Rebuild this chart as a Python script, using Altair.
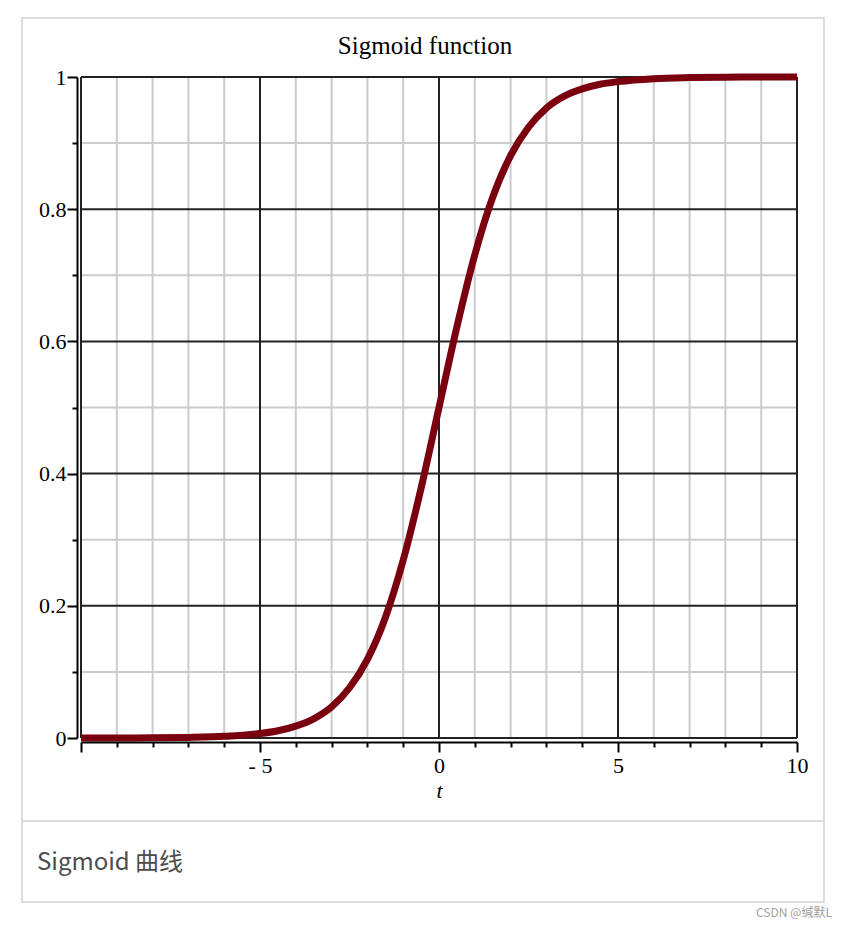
import altair as alt
import pandas as pd

# ---- data ----
t_values = [-10, -9, -8, -7, -6, -5, -4.5, -4, -3.5, -3, -2.5, -2, -1.5, -1, -0.5,
            0, 0.5, 1, 1.5, 2, 2.5, 3, 3.5, 4, 4.5, 5, 6, 7, 8, 9, 10]
sigmoid_values = [0.0000, 0.0001, 0.0003, 0.0009, 0.0025, 0.0067, 0.011, 0.018, 0.029,
                  0.047, 0.076, 0.119, 0.182, 0.269, 0.378, 0.500, 0.622, 0.731, 0.818,
                  0.881, 0.924, 0.953, 0.971, 0.982, 0.989, 0.993, 0.9975, 0.9991,
                  0.9997, 0.9999, 1.0000]

x_major = [-10, -5, 0, 5, 10]
x_minor = [-9, -8, -7, -6, -4, -3, -2, -1, 1, 2, 3, 4, 6, 7, 8, 9]
y_major = [0, 0.2, 0.4, 0.6, 0.8, 1]
y_minor = [0.1, 0.3, 0.5, 0.7, 0.9]

title_text = "Sigmoid function"
x_title = "t"
caption_text = "Sigmoid 曲线"
watermark_text = "CSDN @缄默L"

curve_df = pd.DataFrame({"t": t_values, "y": sigmoid_values})

SERIF = "Liberation Serif"
x_scale = alt.Scale(domain=[-10, 10], nice=False, zero=False)
y_scale = alt.Scale(domain=[0, 1], nice=False, zero=False)
one = alt.Data(values=[{}])

frame = alt.Chart(one).mark_rect(filled=False, stroke="#dddddd", strokeWidth=2).encode(
    x=alt.value(-59), x2=alt.value(743), y=alt.value(-59), y2=alt.value(825)
)
separator = alt.Chart(one).mark_rule(color="#dddddd", strokeWidth=2).encode(
    x=alt.value(-59), x2=alt.value(743), y=alt.value(744)
)

minor_x = alt.Chart(pd.DataFrame({"v": x_minor})).mark_rule(color="#cccccc", strokeWidth=2).encode(
    x=alt.X("v:Q", scale=x_scale,
            axis=alt.Axis(values=x_minor, orient="bottom", offset=4, grid=False, domain=False,
                          ticks=True, tickSize=5, tickWidth=2, tickColor="black",
                          labels=False, title="", zindex=1))
)
minor_y = alt.Chart(pd.DataFrame({"v": y_minor})).mark_rule(color="#cccccc", strokeWidth=2).encode(
    y=alt.Y("v:Q", scale=y_scale,
            axis=alt.Axis(values=y_minor, orient="left", offset=4, grid=False, domain=False,
                          ticks=True, tickSize=5, tickWidth=2, tickColor="black",
                          labels=False, title="", zindex=1))
)
major_x = alt.Chart(pd.DataFrame({"v": x_major})).mark_rule(color="#222222", strokeWidth=2).encode(
    x=alt.X("v:Q", scale=x_scale,
            axis=alt.Axis(values=x_major, orient="bottom", offset=4, grid=False,
                          domain=True, domainColor="black", domainWidth=2,
                          ticks=True, tickSize=10, tickWidth=2, tickColor="black",
                          labelExpr="datum.value == -10 ? '' : (datum.value < 0 ? '- ' + abs(datum.value) : '' + datum.value)",
                          labelFont=SERIF, labelFontSize=22, labelColor="black",
                          labelPadding=3, labelFlush=False, labelOverlap=False,
                          title=x_title, titleFont=SERIF, titleFontStyle="italic",
                          titleFontWeight="normal", titleFontSize=22, titleColor="black",
                          titlePadding=4, zindex=1))
)
major_y = alt.Chart(pd.DataFrame({"v": y_major})).mark_rule(color="#222222", strokeWidth=2).encode(
    y=alt.Y("v:Q", scale=y_scale,
            axis=alt.Axis(values=y_major, orient="left", offset=4, grid=False,
                          domain=True, domainColor="black", domainWidth=2,
                          ticks=True, tickSize=10, tickWidth=2, tickColor="black",
                          labelExpr="'' + datum.value",
                          labelFont=SERIF, labelFontSize=22, labelColor="black",
                          labelPadding=1, labelFlush=False, labelOverlap=False,
                          title="", zindex=1))
)

curve = alt.Chart(curve_df).mark_line(color="#7a0010", strokeWidth=7, interpolate="monotone").encode(
    x=alt.X("t:Q", scale=x_scale, axis=None),
    y=alt.Y("y:Q", scale=y_scale, axis=None),
)

title = alt.Chart(one).mark_text(text=title_text, font=SERIF, fontSize=25, color="black",
                                 align="center", baseline="alphabetic").encode(
    x=alt.value(344), y=alt.value(-23)
)
caption = alt.Chart(one).mark_text(text=caption_text, font="Noto Sans CJK SC", fontSize=24,
                                   color="#4d4d4d", align="left", baseline="alphabetic").encode(
    x=alt.value(-44), y=alt.value(793)
)
watermark = alt.Chart(one).mark_text(text=watermark_text, font="Noto Sans CJK SC", fontSize=12,
                                     color="#a0a0a0", align="right", baseline="alphabetic").encode(
    x=alt.value(751), y=alt.value(840)
)

chart = alt.layer(
    frame, separator, minor_x, minor_y, major_x, major_y, curve, title, caption, watermark
).resolve_axis(
    x="independent", y="independent"
).properties(
    width=716, height=661,
    autosize=alt.AutoSizeParams(type="none"),
    padding={"left": 73, "top": 69, "right": 41, "bottom": 182},
    background="white",
).configure_view(strokeWidth=0)

chart.save("out.html", embed_options={"renderer": "svg", "actions": False})
